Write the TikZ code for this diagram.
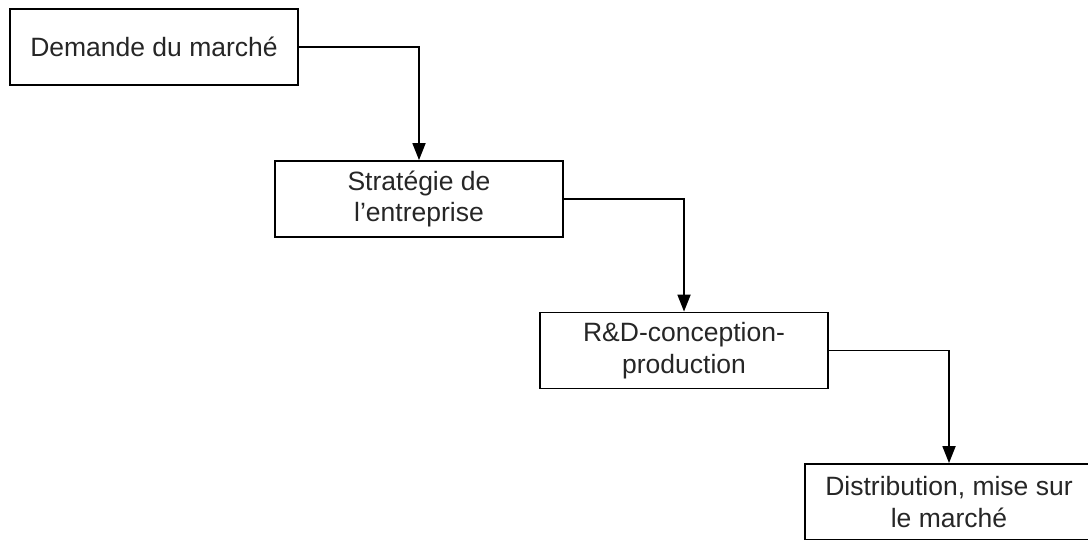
\documentclass[tikz,border=0pt]{standalone}
\usepackage{fontspec}
\setmainfont{Liberation Sans}
\usetikzlibrary{arrows.meta}
\begin{document}
\begin{tikzpicture}[x=1pt,y=-1pt,
  stage/.style={draw, line width=1.8pt, minimum width=288pt, minimum height=76pt,
    inner sep=0pt, align=center, font=\fontsize{26.5}{31.5}\selectfont, text=black!85},
  flow/.style={draw, line width=1.8pt, -{Triangle[length=17pt,width=13pt]}}]
  \useasboundingbox (0,0) rectangle (1088,539);
  \clip (0,0) rectangle (1088,539);
  \node[stage] (demande) at (154,47) {Demande du marché};
  \node[stage] (strategie) at (419,199) {Stratégie de\\l’entreprise};
  \node[stage] (rd) at (684,350.5) {R\&D-conception-\\production};
  \node[stage] (distrib) at (949,502) {Distribution, mise sur\\le marché};
  \draw[flow] (demande.east) -| (strategie.north);
  \draw[flow] (strategie.east) -| (rd.north);
  \draw[flow] (rd.east) -| (distrib.north);
\end{tikzpicture}
\end{document}
